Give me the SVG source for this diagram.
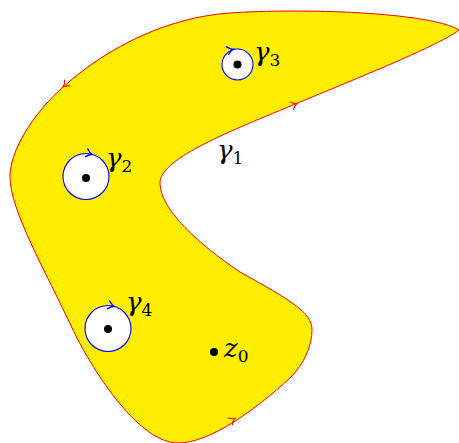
<svg xmlns="http://www.w3.org/2000/svg" width="459" height="443" viewBox="0 0 459 443">
<defs>
<style>
.region{fill:#ffee00;stroke:#ff0000;stroke-width:1}
.rarrow{fill:none;stroke:#ff0000;stroke-width:1.1;stroke-linecap:round}
.hole{fill:#ffffff;stroke:#0000ff;stroke-width:1.1}
.barrow{fill:none;stroke:#0000ff;stroke-width:1.4;stroke-linecap:round}
.dot{fill:#000000}
.lbl{font-family:"DejaVu Serif","Liberation Serif",serif;font-style:italic;font-size:26px;fill:#000}
.sub{font-style:normal;font-size:17px}
</style>
<path id="chev" d="M-4.5,-4 Q-1.5,-0.8 1,0 Q-1.5,0.8 -4.5,4"/>
</defs>
<g id="domain">
<path class="region" d="M459,30 C430,12 300,8 230,13 C170,17 110,45 63,87 C33,114 10,150 10,177 C10,210 45,270 73,330 C95,375 140,443 178,443 C210,443 255,410 290,378 C305,363 312,345 312,330 C312,312 290,300 240,272 C200,245 160,210 160,183 C160,160 220,135 293,105 C360,77 440,45 459,30 Z"/>
</g>
<g id="connectors">
<use href="#chev" class="rarrow" transform="translate(64,86) rotate(138)"/>
<use href="#chev" class="rarrow" transform="translate(296,104) rotate(-23)"/>
<use href="#chev" class="rarrow" transform="translate(234,419) rotate(-32)"/>
</g>
<g id="gamma3">
<circle class="hole" cx="237.5" cy="64.5" r="15.5"/>
<use href="#chev" class="barrow" transform="translate(232,49.5) rotate(-15)"/>
<circle class="dot" cx="237.5" cy="64.5" r="4"/>
<text class="lbl" x="254" y="61">γ<tspan class="sub" dy="5">3</tspan></text>
</g>
<g id="gamma2">
<circle class="hole" cx="86" cy="176.5" r="23"/>
<use href="#chev" class="barrow" transform="translate(91,154) rotate(15)"/>
<circle class="dot" cx="86" cy="178" r="4"/>
<text class="lbl" x="106" y="167">γ<tspan class="sub" dy="5">2</tspan></text>
</g>
<g id="gamma4">
<circle class="hole" cx="108" cy="328.5" r="23"/>
<use href="#chev" class="barrow" transform="translate(113,306) rotate(15)"/>
<circle class="dot" cx="108" cy="329" r="4"/>
<text class="lbl" x="126" y="311">γ<tspan class="sub" dy="5">4</tspan></text>
</g>
<g id="gamma1">
<text class="lbl" x="217" y="159">γ<tspan class="sub" dy="5">1</tspan></text>
</g>
<g id="z0">
<circle class="dot" cx="214" cy="352" r="4"/>
<text class="lbl" x="224" y="357">z<tspan class="sub" dy="5">0</tspan></text>
</g>
</svg>
